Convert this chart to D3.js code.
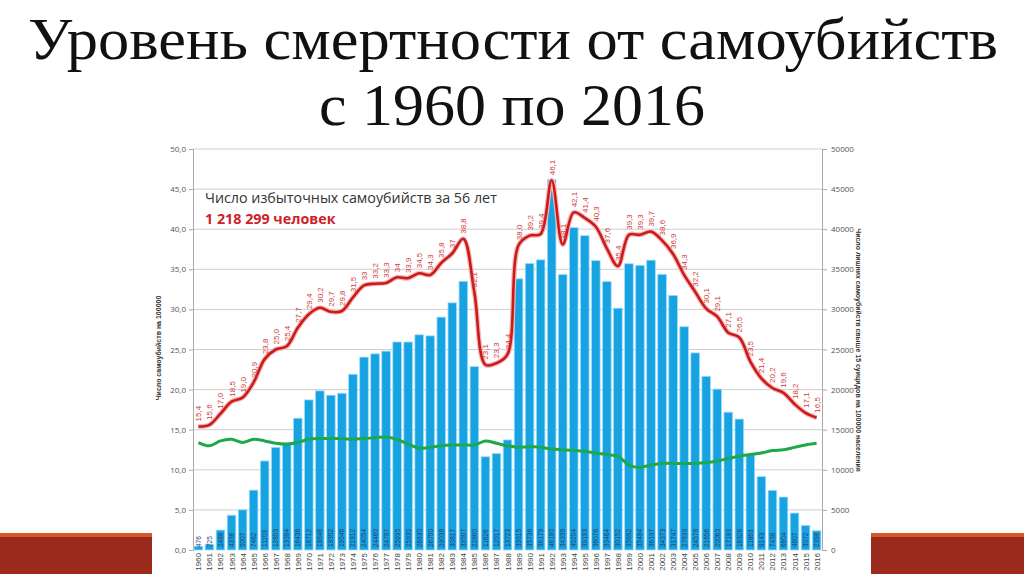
<!DOCTYPE html>
<html lang="ru">
<head>
<meta charset="UTF-8">
<title>Уровень смертности от самоубийств</title>
<script src="https://d3js.org/d3.v7.min.js"></script>
<style>
  body { margin: 0; background: #fff; }
  svg { display: block; }
  .title { font-family: "Liberation Serif", "DejaVu Serif", serif; font-size: 59px; fill: #111; }
  .tick text { font-family: "Open Sans", Arial, sans-serif; font-size: 8px; fill: #555; }
  .axis path, .axis line { stroke: #a8a8a8; }
  .grid line { stroke: #cfcfcf; }
  .axis-title { font-family: "Liberation Sans", Arial, sans-serif; font-size: 7px; font-weight: bold; fill: #333; }
</style>
</head>
<body>
<svg id="chart" width="1024" height="574"></svg>
<script>
// years on the x axis
const years = d3.range(1960, 2017);

// excess suicides per year (bars, right axis)
const excess = [476, 725, 2488, 4336, 5007, 7462, 11103, 12803, 13384, 16436,
  18712, 19846, 19302, 19546, 21912, 24054, 24460, 24797, 25935, 25930,
  26830, 26700, 29038, 30817, 33507, 22860, 11626, 12017, 13723, 33815,
  35736, 36179, 46180, 34338, 40204, 39193, 36076, 33464, 30152, 35692,
  35494, 36137, 34373, 31747, 27839, 24578, 21656, 20063, 17183, 16326,
  11863, 9143, 7438, 6604, 4607, 3072, 2398];

// suicide rate per 100000 (red line, left axis)
const rate = [15.4, 15.6, 17.0, 18.5, 19.0, 20.9, 23.8, 25.0, 25.4, 27.7,
  29.4, 30.2, 29.7, 29.8, 31.5, 33.0, 33.2, 33.3, 34.0, 33.9,
  34.5, 34.3, 35.8, 37.0, 38.8, 32.1, 23.1, 23.3, 24.4, 38.0,
  39.2, 39.4, 46.1, 38.1, 42.1, 41.4, 40.3, 37.6, 35.4, 39.3,
  39.3, 39.7, 38.6, 36.9, 34.3, 32.2, 30.1, 29.1, 27.1, 26.5,
  23.5, 21.4, 20.2, 19.6, 18.2, 17.1, 16.5];

// years whose rate label is printed without decimals
const intLabelYears = [1975, 1978, 1983];

// baseline rate (green line, left axis)
const baseline = [13.4, 13.0, 13.6, 13.8, 13.4, 13.8, 13.6, 13.3, 13.2, 13.4,
  13.8, 13.9, 13.9, 13.9, 13.8, 13.9, 14.0, 14.1, 13.8, 13.2,
  12.7, 12.8, 13.0, 13.1, 13.1, 13.1, 13.6, 13.3, 13.0, 12.8,
  12.9, 12.8, 12.6, 12.5, 12.4, 12.3, 12.1, 11.9, 11.7, 10.6,
  10.3, 10.6, 10.8, 10.8, 10.8, 10.8, 10.9, 11.1, 11.4, 11.7,
  11.9, 12.1, 12.4, 12.5, 12.8, 13.1, 13.3];

const leftTicks = [0, 5, 10, 15, 20, 25, 30, 35, 40, 45, 50];
const rightTicks = [0, 5000, 10000, 15000, 20000, 25000, 30000, 35000, 40000, 45000, 50000];

const svg = d3.select("#chart");

// title, two lines
svg.append("text").attr("class", "title").attr("text-anchor", "middle")
   .attr("x", 513).attr("y", 59)
   .attr("textLength", 970).attr("lengthAdjust", "spacingAndGlyphs")
   .text("Уровень смертности от самоубийств");
svg.append("text").attr("class", "title").attr("text-anchor", "middle")
   .attr("x", 512).attr("y", 125)
   .attr("textLength", 386).attr("lengthAdjust", "spacingAndGlyphs")
   .text("с 1960 по 2016");

// decorative red bands at the bottom
[[0, 152], [871, 1024]].forEach(([a, b]) => {
  svg.append("rect").attr("x", a).attr("y", 533).attr("width", b - a).attr("height", 41).attr("fill", "#9a2a1c");
  svg.append("rect").attr("x", a).attr("y", 533).attr("width", b - a).attr("height", 4).attr("fill", "#d6572a");
});

// plot area
const plotL = 193, plotR = 822, plotT = 149, plotB = 550;

const x = d3.scaleBand()
  .domain(years)
  .range([plotL, plotR])
  .paddingInner(0.22)
  .paddingOuter(0.1);

const yL = d3.scaleLinear().domain([0, 50]).range([plotB, plotT]);
const yR = d3.scaleLinear().domain([0, 50000]).range([plotB, plotT]);

// gridlines
svg.append("g").attr("class", "grid")
   .selectAll("line").data(leftTicks.slice(1)).join("line")
   .attr("x1", plotL).attr("x2", plotR)
   .attr("y1", d => yL(d)).attr("y2", d => yL(d));

// axes
const fmt = d => d3.format(".1f")(d).replace(".", ",");
svg.append("g").attr("class", "axis")
   .attr("transform", `translate(${plotL},0)`)
   .call(d3.axisLeft(yL).tickValues(leftTicks).tickFormat(fmt).tickSize(4).tickPadding(3));
svg.append("g").attr("class", "axis")
   .attr("transform", `translate(${plotR},0)`)
   .call(d3.axisRight(yR).tickValues(rightTicks).tickFormat(d3.format("d")).tickSize(5).tickPadding(4));

// bars
svg.append("g").selectAll("rect")
   .data(years).join("rect")
   .attr("x", d => x(d))
   .attr("width", x.bandwidth())
   .attr("y", (d, i) => yR(excess[i]))
   .attr("height", (d, i) => plotB - yR(excess[i]))
   .attr("fill", "#17a2e2")
   .attr("stroke", "#9fdcf7")
   .attr("stroke-width", 0.8);

// bar value labels
svg.append("g").selectAll("text")
   .data(years).join("text")
   .attr("transform", d => `translate(${x(d) + x.bandwidth() / 2 + 2.5},${plotB - 3}) rotate(-90)`)
   .style("font-family", "'Liberation Sans Narrow', Arial, sans-serif")
   .style("font-size", "6.5px")
   .attr("fill", "#24406f")
   .text((d, i) => excess[i]);

// year labels
svg.append("g").selectAll("text")
   .data(years).join("text")
   .attr("transform", d => `translate(${x(d) + x.bandwidth() / 2 + 3},${plotB + 3}) rotate(-90)`)
   .attr("text-anchor", "end")
   .style("font-family", "'Liberation Sans Narrow', Arial, sans-serif")
   .style("font-size", "8px")
   .attr("fill", "#444")
   .text(d => d);

const cx = d => x(d) + x.bandwidth() / 2;

// green line
const greenLine = d3.line()
  .x(d => cx(d))
  .y((d, i) => yL(baseline[i]))
  .curve(d3.curveCatmullRom.alpha(0.5));
svg.append("path").datum(years)
   .attr("d", greenLine)
   .attr("fill", "none").attr("stroke", "#1ea84c").attr("stroke-width", 3);

// red line
const redLine = d3.line()
  .x(d => cx(d))
  .y((d, i) => yL(rate[i]))
  .curve(d3.curveCatmullRom.alpha(0.5));
svg.append("path").datum(years)
   .attr("d", redLine)
   .attr("fill", "none").attr("stroke", "#f4b9b9").attr("stroke-width", 5);
svg.append("path").datum(years)
   .attr("d", redLine)
   .attr("fill", "none").attr("stroke", "#cc1a1a").attr("stroke-width", 2.6);

// red value labels
svg.append("g").selectAll("text")
   .data(years).join("text")
   .attr("transform", (d, i) => `translate(${cx(d) + 3},${yL(rate[i]) - 5}) rotate(-90)`)
   .style("font-family", "'Liberation Sans Narrow', Arial, sans-serif")
   .style("font-size", "8px")
   .attr("fill", "#d23a3a")
   .text((d, i) => intLabelYears.includes(d) ? String(rate[i]) : fmt(rate[i]));

// annotation
svg.append("text").attr("x", 205).attr("y", 203)
   .style("font-family", "'Open Sans', Arial, sans-serif").style("font-size", "14.3px")
   .attr("fill", "#333")
   .text("Число избыточных самоубийств за 56 лет");
svg.append("text").attr("x", 205).attr("y", 224)
   .style("font-family", "'Open Sans', Arial, sans-serif").style("font-size", "14.3px")
   .style("font-weight", "bold")
   .attr("fill", "#d0202a")
   .text("1 218 299 человек");

// axis titles
svg.append("text").attr("class", "axis-title")
   .attr("transform", "translate(161,348) rotate(-90)")
   .attr("text-anchor", "middle")
   .text("Число самоубийств на 100000");
svg.append("text").attr("class", "axis-title")
   .attr("transform", "translate(856,350) rotate(90)")
   .attr("text-anchor", "middle")
   .text("Число лишних самоубийств свыше 15 суицидов на 100000 населения");
</script>
</body>
</html>
